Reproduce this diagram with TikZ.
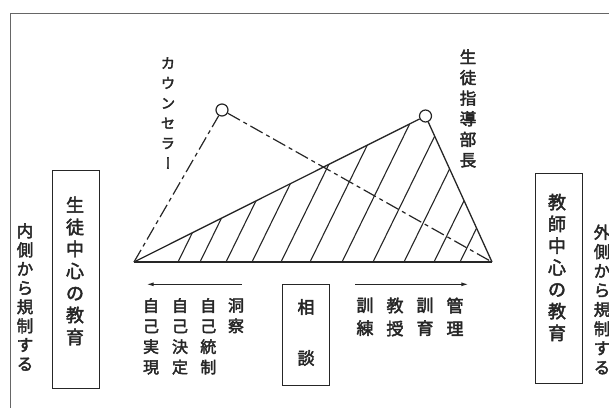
\documentclass[tikz,border=0pt]{standalone}
\usepackage{fontspec}
\usepackage{tikz}
\usetikzlibrary{arrows.meta,positioning}
\newfontfamily\jpfont[FakeBold=2.5]{Noto Sans CJK JP}
\newfontfamily\jpvfont[RawFeature=+vert,FakeBold=2.5]{Noto Sans CJK JP}
\newcommand{\HatchBases}{178,200,226,252,281,310,342,373,404,434,460}
\tikzset{
  edge/.style={line width=1.3pt, black!85},
  baseEdge/.style={line width=2pt, black!85},
  hatch/.style={line width=1.1pt, black!85},
  chain/.style={line width=1.2pt, black!85, dash pattern=on 14pt off 4pt on 4pt off 4pt},
  joint/.style={circle, draw=black!85, fill=white, line width=1.2pt, minimum size=12pt, inner sep=0pt},
  box/.style={draw=black!85, line width=1pt, inner sep=0pt},
  vlbl/.style={align=center, inner sep=0pt, text=black!85},
  flow/.style={-{Latex[length=7pt,width=4pt]}, line width=1.1pt, black!85}
}

\begin{document}
\begin{tikzpicture}[x=1pt,y=-1pt]
  \useasboundingbox (0,0) rectangle (609,407);
  % outer frame, runs off the page
  \draw[black!60, line width=0.8pt] (10.5,420) -- (10.5,13.5) -- (620,13.5);
  % triangle corners
  \coordinate (L) at (134,262);
  \coordinate (R) at (492,262);
  \coordinate (A) at (425.5,116);
  % hatching inside the triangle
  \begin{scope}
    \clip (L) -- (A) -- (R) -- cycle;
    \foreach \xb in \HatchBases {
      \draw[hatch] (\xb,262) -- ++(98,-200);
    }
  \end{scope}
  \node[joint] (cs) at (222,110) {};
  \node[joint] (hd) at (A) {};
  \draw[edge] (L) -- (hd);
  \draw[edge] (hd) -- (R);
  \draw[baseEdge] (L) -- (R);
  \draw[chain] (L) -- (cs);
  \draw[chain] (cs) -- (R);
  % top labels
  \node[vlbl, font=\jpvfont\fontsize{14.5}{20}\selectfont] (cnsl) at (168,113) {カ\\ウ\\ン\\セ\\ラ\\ー};
  \node[vlbl, font=\jpfont\fontsize{16.5}{20.6}\selectfont] (head) at (468,108.5) {生\\徒\\指\\導\\部\\長};
  % side boxes
  \node[box, minimum width=47, minimum height=218] (sbox) at (75.5,279) {};
  \node[vlbl, font=\jpfont\fontsize{18}{22}\selectfont] (stext) at (75,271) {生\\徒\\中\\心\\の\\教\\育};
  \node[vlbl, font=\jpfont\fontsize{16.5}{19}\selectfont] (inner) at (25,297) {内\\側\\か\\ら\\規\\制\\す\\る};
  \node[box, minimum width=47, minimum height=210] (tbox) at (558.5,278) {};
  \node[vlbl, font=\jpfont\fontsize{18}{21.8}\selectfont] (ttext) at (557,267.5) {教\\師\\中\\心\\の\\教\\育};
  \node[vlbl, font=\jpfont\fontsize{16.5}{19.3}\selectfont] (outer) at (602,299.5) {外\\側\\か\\ら\\規\\制\\す\\る};
  % middle box
  \node[box, minimum width=46.5, minimum height=101] (mbox) at (306,334.5) {};
  \node[vlbl, font=\jpfont\fontsize{17}{51}\selectfont] (mtext) at (306,332.5) {相\\談};
  % arrows
  \coordinate (la1) at (241.7,284.3);
  \coordinate (la2) at (146.7,284.3);
  \coordinate (ra1) at (355,284.3);
  \coordinate (ra2) at (468.3,284.3);
  \draw[flow] (la1) -- (la2);
  \draw[flow] (ra1) -- (ra2);
  % left columns
  \node[vlbl, anchor=north, font=\jpfont\fontsize{16}{20.5}\selectfont] (c1) at (236,298) {洞\\察};
  \node[vlbl, anchor=north, font=\jpfont\fontsize{16}{20.5}\selectfont] (c2) at (208.3,298) {自\\己\\統\\制};
  \node[vlbl, anchor=north, font=\jpfont\fontsize{16}{20.5}\selectfont] (c3) at (180,298) {自\\己\\決\\定};
  \node[vlbl, anchor=north, font=\jpfont\fontsize{16}{20.5}\selectfont] (c4) at (151,298) {自\\己\\実\\現};
  % right columns
  \node[vlbl, anchor=north, font=\jpfont\fontsize{17}{23}\selectfont] (t1) at (365,297.5) {訓\\練};
  \node[vlbl, anchor=north, font=\jpfont\fontsize{17}{23}\selectfont] (t2) at (395,297.5) {教\\授};
  \node[vlbl, anchor=north, font=\jpfont\fontsize{17}{23}\selectfont] (t3) at (425,297.5) {訓\\育};
  \node[vlbl, anchor=north, font=\jpfont\fontsize{17}{23}\selectfont] (t4) at (455,297.5) {管\\理};
\end{tikzpicture}
\end{document}
